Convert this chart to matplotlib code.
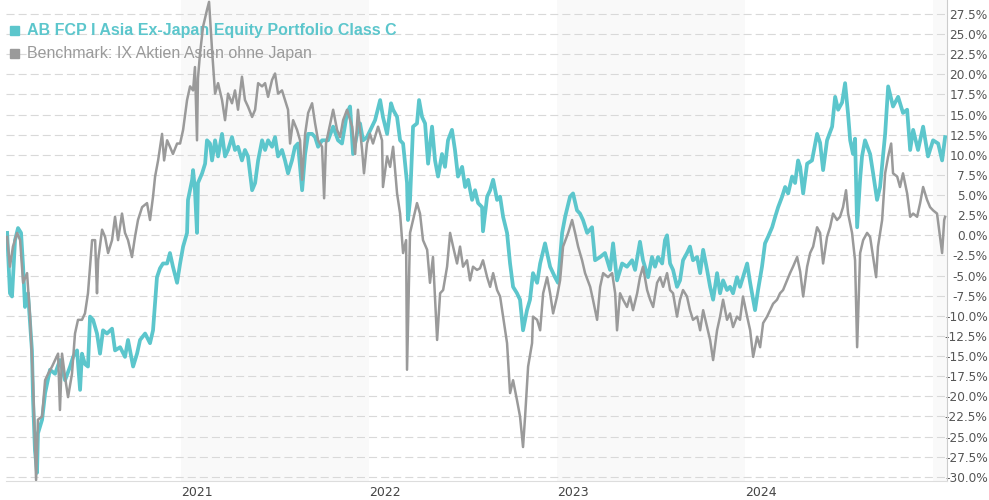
import matplotlib
matplotlib.use("Agg")
import matplotlib.pyplot as plt
from matplotlib.patches import Rectangle

fund_name = "AB FCP I Asia Ex-Japan Equity Portfolio Class C"
bench_name = "Benchmark: IX Aktien Asien ohne Japan"

year_ticks = [2021, 2022, 2023, 2024]
year_labels = ["2021", "2022", "2023", "2024"]
shaded_years = [2021, 2023, 2025]

y_ticks = [-30.0, -27.5, -25.0, -22.5, -20.0, -17.5, -15.0, -12.5, -10.0, -7.5, -5.0, -2.5,
           0.0, 2.5, 5.0, 7.5, 10.0, 12.5, 15.0, 17.5, 20.0, 22.5, 25.0, 27.5]
y_labels = ["-30.0%", "-27.5%", "-25.0%", "-22.5%", "-20.0%", "-17.5%", "-15.0%", "-12.5%",
            "-10.0%", "-7.5%", "-5.0%", "-2.5%", "0.0%", "2.5%", "5.0%", "7.5%", "10.0%",
            "12.5%", "15.0%", "17.5%", "20.0%", "22.5%", "25.0%", "27.5%"]

# time in decimal years, cumulative performance in %
fund_t = [
    2020.075, 2020.090, 2020.101, 2020.117, 2020.133, 2020.149, 2020.160, 2020.170, 2020.186, 2020.207,
    2020.213, 2020.223, 2020.234, 2020.239, 2020.261, 2020.277, 2020.303, 2020.330, 2020.356, 2020.383,
    2020.410, 2020.426, 2020.447, 2020.463, 2020.473, 2020.489, 2020.505, 2020.516, 2020.532, 2020.553,
    2020.569, 2020.585, 2020.606, 2020.633, 2020.649, 2020.676, 2020.702, 2020.718, 2020.745, 2020.766,
    2020.782, 2020.809, 2020.835, 2020.851, 2020.872, 2020.888, 2020.904, 2020.926, 2020.941, 2020.957,
    2020.979, 2020.995, 2021.011, 2021.032, 2021.037, 2021.059, 2021.064, 2021.074, 2021.085, 2021.090,
    2021.112, 2021.128, 2021.138, 2021.154, 2021.165, 2021.181, 2021.197, 2021.218, 2021.234, 2021.250,
    2021.271, 2021.287, 2021.303, 2021.324, 2021.340, 2021.356, 2021.378, 2021.394, 2021.410, 2021.431,
    2021.447, 2021.463, 2021.484, 2021.500, 2021.516, 2021.537, 2021.553, 2021.569, 2021.590, 2021.606,
    2021.622, 2021.644, 2021.660, 2021.676, 2021.697, 2021.713, 2021.729, 2021.750, 2021.782, 2021.809,
    2021.835, 2021.856, 2021.883, 2021.899, 2021.915, 2021.936, 2021.952, 2021.968, 2021.989, 2022.016,
    2022.032, 2022.059, 2022.074, 2022.096, 2022.117, 2022.128, 2022.149, 2022.165, 2022.181, 2022.202,
    2022.207, 2022.218, 2022.234, 2022.255, 2022.266, 2022.282, 2022.298, 2022.314, 2022.335, 2022.351,
    2022.367, 2022.388, 2022.404, 2022.420, 2022.441, 2022.457, 2022.473, 2022.495, 2022.511, 2022.527,
    2022.548, 2022.564, 2022.580, 2022.601, 2022.606, 2022.628, 2022.644, 2022.660, 2022.681, 2022.697,
    2022.713, 2022.734, 2022.750, 2022.766, 2022.787, 2022.803, 2022.819, 2022.840, 2022.856, 2022.872,
    2022.894, 2022.910, 2022.936, 2022.963, 2022.989, 2023.005, 2023.027, 2023.043, 2023.069, 2023.085,
    2023.106, 2023.122, 2023.138, 2023.160, 2023.186, 2023.202, 2023.229, 2023.255, 2023.282, 2023.298,
    2023.319, 2023.346, 2023.372, 2023.399, 2023.415, 2023.441, 2023.457, 2023.484, 2023.505, 2023.521,
    2023.537, 2023.559, 2023.574, 2023.585, 2023.601, 2023.617, 2023.638, 2023.654, 2023.670, 2023.691,
    2023.707, 2023.723, 2023.745, 2023.761, 2023.777, 2023.798, 2023.814, 2023.830, 2023.851, 2023.867,
    2023.883, 2023.904, 2023.920, 2023.936, 2023.957, 2023.973, 2023.989, 2024.011, 2024.027, 2024.043,
    2024.053, 2024.069, 2024.090, 2024.106, 2024.122, 2024.144, 2024.160, 2024.176, 2024.197, 2024.213,
    2024.229, 2024.250, 2024.266, 2024.282, 2024.293, 2024.309, 2024.330, 2024.356, 2024.383, 2024.399,
    2024.415, 2024.436, 2024.463, 2024.479, 2024.495, 2024.516, 2024.532, 2024.548, 2024.559, 2024.574,
    2024.585, 2024.596, 2024.612, 2024.622, 2024.638, 2024.665, 2024.681, 2024.702, 2024.718, 2024.745,
    2024.761, 2024.787, 2024.814, 2024.840, 2024.862, 2024.878, 2024.894, 2024.920, 2024.947, 2024.973,
    2025.000, 2025.027, 2025.048, 2025.064,
]
fund_v = [
    0.3, -7.2, -7.6, -0.6, 0.9, 0.3, -3.9, -8.9, -7.2, -14.3,
    -20.5, -26.7, -29.5, -24.6, -22.9, -19.6, -16.7, -17.2, -15.5, -18.0,
    -16.3, -15.1, -14.3, -19.2, -14.7, -16.0, -16.3, -10.1, -10.5, -12.2,
    -14.7, -11.8, -12.2, -11.6, -14.3, -13.9, -15.1, -13.0, -16.3, -14.7,
    -13.0, -12.2, -13.4, -11.8, -5.2, -4.1, -3.5, -3.5, -2.2, -3.9,
    -5.9, -3.5, -1.4, 0.3, 4.4, 6.9, 8.1, 5.6, 0.3, 6.5,
    7.7, 8.9, 11.8, 11.4, 9.3, 11.8, 9.8, 12.6, 9.8, 10.6,
    12.2, 10.6, 11.0, 9.3, 10.6, 9.8, 5.6, 6.5, 9.3, 11.8,
    10.6, 11.8, 11.0, 12.2, 9.8, 10.6, 9.3, 7.7, 9.3, 11.0,
    11.4, 5.6, 10.1, 12.6, 12.6, 12.2, 11.0, 11.8, 11.8, 13.5,
    11.8, 11.4, 15.2, 16.0, 10.1, 12.6, 13.9, 11.8, 12.2, 13.5,
    14.3, 16.8, 14.7, 12.6, 16.4, 15.6, 14.7, 11.8, 11.4, 6.5,
    1.9, 4.4, 13.5, 13.9, 16.8, 14.7, 13.9, 8.9, 13.5, 9.3,
    7.3, 10.1, 8.5, 11.8, 13.1, 10.6, 7.3, 8.5, 6.0, 6.9,
    4.4, 5.6, 4.0, 3.5, 0.5, 4.8, 5.6, 6.9, 4.4, 4.8,
    2.3, 0.3, -3.5, -6.4, -7.2, -8.0, -11.8, -9.3, -8.0, -4.7,
    -5.9, -3.5, -1.0, -3.9, -5.2, -5.9, 0.3, 2.3, 4.8, 5.2,
    3.1, 2.7, 1.9, 0.3, 1.0, -3.1, -2.7, -2.2, -4.3, -1.0,
    -5.6, -3.5, -3.9, -3.1, -4.3, -0.8, -3.1, -5.2, -2.7, -3.9,
    -2.7, -3.5, -0.6, 0.0, -3.5, -4.3, -6.4, -5.6, -3.1, -2.2,
    -1.4, -3.1, -2.7, -4.7, -1.8, -4.3, -6.4, -8.0, -4.7, -7.2,
    -5.6, -6.8, -6.4, -7.2, -5.2, -6.4, -5.2, -3.5, -5.9, -8.0,
    -9.3, -6.8, -3.9, -1.0, -0.2, 1.0, 2.3, 3.5, 4.8, 6.0,
    5.2, 7.3, 6.5, 9.3, 8.5, 5.2, 8.9, 9.3, 12.6, 11.5,
    8.1, 11.8, 13.5, 17.2, 15.6, 16.5, 18.9, 15.0, 11.8, 10.1,
    12.0, 1.0, 7.0, 9.8, 11.8, 10.1, 7.7, 4.4, 6.0, 12.6,
    18.5, 16.0, 17.2, 15.2, 15.6, 10.6, 13.1, 10.6, 13.5, 9.8,
    11.8, 11.4, 9.3, 12.2,
]

bench_t = [
    2020.075, 2020.090, 2020.106, 2020.128, 2020.144, 2020.160, 2020.181, 2020.197, 2020.213, 2020.229,
    2020.239, 2020.261, 2020.277, 2020.293, 2020.314, 2020.330, 2020.346, 2020.356, 2020.367, 2020.383,
    2020.399, 2020.420, 2020.436, 2020.452, 2020.473, 2020.489, 2020.505, 2020.527, 2020.543, 2020.553,
    2020.559, 2020.580, 2020.596, 2020.612, 2020.633, 2020.649, 2020.665, 2020.686, 2020.702, 2020.718,
    2020.739, 2020.755, 2020.771, 2020.793, 2020.819, 2020.835, 2020.851, 2020.862, 2020.878, 2020.899,
    2020.910, 2020.926, 2020.941, 2020.957, 2020.979, 2020.995, 2021.011, 2021.032, 2021.048, 2021.064,
    2021.074, 2021.085, 2021.090, 2021.101, 2021.117, 2021.138, 2021.149, 2021.165, 2021.181, 2021.197,
    2021.218, 2021.234, 2021.250, 2021.271, 2021.287, 2021.303, 2021.324, 2021.340, 2021.356, 2021.378,
    2021.394, 2021.410, 2021.431, 2021.447, 2021.463, 2021.484, 2021.500, 2021.516, 2021.537, 2021.553,
    2021.569, 2021.580, 2021.596, 2021.617, 2021.633, 2021.644, 2021.660, 2021.676, 2021.697, 2021.713,
    2021.729, 2021.750, 2021.761, 2021.771, 2021.809, 2021.830, 2021.846, 2021.862, 2021.883, 2021.910,
    2021.926, 2021.941, 2021.963, 2021.973, 2021.989, 2022.005, 2022.021, 2022.048, 2022.069, 2022.074,
    2022.096, 2022.112, 2022.128, 2022.149, 2022.165, 2022.181, 2022.197, 2022.202, 2022.218, 2022.234,
    2022.255, 2022.271, 2022.287, 2022.309, 2022.324, 2022.340, 2022.362, 2022.378, 2022.394, 2022.415,
    2022.431, 2022.447, 2022.468, 2022.484, 2022.500, 2022.521, 2022.537, 2022.553, 2022.574, 2022.590,
    2022.606, 2022.628, 2022.644, 2022.660, 2022.681, 2022.697, 2022.713, 2022.734, 2022.750, 2022.766,
    2022.787, 2022.803, 2022.819, 2022.830, 2022.846, 2022.867, 2022.872, 2022.894, 2022.910, 2022.926,
    2022.947, 2022.963, 2022.979, 2023.000, 2023.016, 2023.032, 2023.059, 2023.080, 2023.096, 2023.112,
    2023.133, 2023.149, 2023.176, 2023.191, 2023.213, 2023.229, 2023.245, 2023.271, 2023.293, 2023.309,
    2023.319, 2023.335, 2023.351, 2023.372, 2023.388, 2023.404, 2023.426, 2023.441, 2023.457, 2023.479,
    2023.495, 2023.511, 2023.532, 2023.548, 2023.564, 2023.585, 2023.601, 2023.617, 2023.638, 2023.654,
    2023.670, 2023.691, 2023.707, 2023.723, 2023.745, 2023.761, 2023.777, 2023.798, 2023.814, 2023.830,
    2023.851, 2023.867, 2023.883, 2023.904, 2023.920, 2023.936, 2023.957, 2023.973, 2023.989, 2024.011,
    2024.027, 2024.043, 2024.064, 2024.080, 2024.096, 2024.117, 2024.133, 2024.149, 2024.170, 2024.186,
    2024.202, 2024.223, 2024.239, 2024.255, 2024.277, 2024.293, 2024.309, 2024.330, 2024.346, 2024.362,
    2024.383, 2024.399, 2024.415, 2024.436, 2024.452, 2024.468, 2024.489, 2024.505, 2024.521, 2024.537,
    2024.548, 2024.569, 2024.585, 2024.596, 2024.612, 2024.628, 2024.649, 2024.665, 2024.681, 2024.697,
    2024.707, 2024.729, 2024.745, 2024.761, 2024.777, 2024.787, 2024.809, 2024.824, 2024.840, 2024.862,
    2024.878, 2024.894, 2024.915, 2024.931, 2024.947, 2024.968, 2024.984, 2025.000, 2025.021, 2025.032,
    2025.048, 2025.059, 2025.064,
]
bench_v = [
    -0.2, -3.9, -1.4, 0.3, -0.6, -5.9, -4.7, -10.1, -18.4, -30.4,
    -22.9, -22.5, -18.0, -17.2, -16.3, -15.5, -14.7, -21.7, -14.7, -17.6,
    -20.1, -17.2, -12.2, -10.5, -10.5, -9.7, -7.2, -0.6, -0.6, -7.2,
    -3.1, 0.7, -0.2, -2.2, -0.6, 2.3, -0.6, 2.7, 0.3, -0.6,
    -2.7, -0.2, 1.9, 3.5, 4.0, 1.9, 4.8, 7.3, 9.3, 12.6,
    9.3, 11.8, 11.0, 10.1, 11.4, 11.4, 13.1, 16.8, 18.5, 18.0,
    20.9, 11.8, 19.5, 22.6, 25.9, 28.0, 29.0, 23.0, 17.6, 18.9,
    16.8, 14.3, 17.6, 16.4, 18.0, 15.6, 19.7, 16.8, 16.0, 14.7,
    15.6, 18.9, 18.5, 18.9, 17.2, 19.3, 20.1, 17.6, 18.0, 16.8,
    15.6, 11.4, 14.3, 13.1, 11.8, 6.9, 12.6, 15.2, 16.4, 13.9,
    11.8, 11.0, 4.6, 11.4, 15.6, 13.1, 12.2, 14.3, 15.6, 13.5,
    10.1, 15.6, 10.6, 7.7, 11.4, 12.6, 11.4, 13.5, 11.8, 6.0,
    9.8, 8.5, 11.0, 5.2, 2.7, -2.2, -0.6, -16.7, 0.3, 1.9,
    4.0, 2.7, -0.6, -1.8, -5.9, -2.7, -13.0, -7.2, -6.8, -3.9,
    0.3, -1.4, -3.5, -1.4, -3.9, -3.1, -5.6, -3.9, -4.3, -4.1,
    -3.1, -5.2, -6.4, -4.7, -6.8, -7.6, -10.1, -13.4, -19.6, -18.0,
    -20.5, -22.5, -26.3, -22.5, -16.3, -13.4, -10.1, -10.5, -11.8, -7.2,
    -5.2, -7.2, -9.7, -7.6, -5.6, -1.4, 0.3, 1.9, 0.3, -1.4,
    -3.1, -4.7, -6.4, -8.0, -10.5, -6.4, -4.7, -5.2, -4.7, -7.2,
    -11.8, -7.2, -8.0, -8.9, -7.6, -9.3, -7.2, -5.2, -3.9, -6.8,
    -8.0, -8.9, -5.9, -5.2, -6.4, -4.7, -6.8, -7.2, -10.1, -8.0,
    -6.8, -7.6, -9.3, -10.5, -10.1, -11.8, -9.3, -11.4, -13.0, -15.5,
    -11.8, -10.1, -8.0, -10.5, -9.7, -11.4, -10.1, -10.5, -7.6, -10.1,
    -11.8, -15.1, -12.6, -13.9, -10.9, -10.1, -9.3, -8.5, -8.0, -7.2,
    -6.8, -5.6, -4.7, -3.9, -2.7, -4.5, -7.6, -3.9, -2.2, -1.4,
    1.0, 0.3, -3.5, -0.2, 1.0, 2.7, 1.9, 2.3, 3.5, 5.6,
    2.7, 0.3, -3.1, -13.9, -2.2, -0.6, 0.3, -0.2, -2.7, -5.2,
    -1.4, 1.9, 7.7, 9.8, 11.4, 7.7, 7.3, 6.0, 7.7, 5.2,
    2.3, 2.7, 2.3, 4.0, 6.0, 4.4, 3.5, 3.1, 2.7, 0.7,
    -2.2, 1.9, 2.3,
]

TEAL = "#5CC6CC"
GREY = "#9A9A9A"
W, H = 989, 500

plt.rcParams["lines.scale_dashes"] = False
fig = plt.figure(figsize=(W / 100, H / 100), dpi=100)
ax = fig.add_axes([6 / W, 19 / H, 941 / W, 481 / H])
ax.set_xlim(2020.069, 2025.074)
ax.set_ylim(-30.52, 29.23)

for yr in shaded_years:
    ax.axvspan(yr, yr + 1, color="#f9f9f9", lw=0, zorder=0)

for v in y_ticks:
    ax.axhline(v, color="#d9d9d9", lw=0.8, dashes=(5.8, 2.9), zorder=0.5)

ax.plot(fund_t, fund_v, color=TEAL, lw=2.7, solid_joinstyle="round", zorder=3)
ax.plot(bench_t, bench_v, color=GREY, lw=1.8, solid_joinstyle="round", zorder=4)

# legend (drawn beneath the lines, as in the original)
ax.add_patch(Rectangle((10 / W, 1 - 35 / H), 9 / W, 9 / H, transform=fig.transFigure,
                       color=TEAL, zorder=1, clip_on=False))
ax.text(27 / W, 1 - 30.5 / H, fund_name, transform=fig.transFigure, color=TEAL,
        fontsize=11.5, fontweight="bold", family="Liberation Sans", va="center", ha="left", zorder=1)
ax.add_patch(Rectangle((10 / W, 1 - 58 / H), 9 / W, 9 / H, transform=fig.transFigure,
                       color=GREY, zorder=1, clip_on=False))
ax.text(27 / W, 1 - 53.5 / H, bench_name, transform=fig.transFigure, color=GREY,
        fontsize=11.5, family="Liberation Sans", va="center", ha="left", zorder=1)

for s in ["top", "left"]:
    ax.spines[s].set_visible(False)
ax.spines["right"].set_color("#cccccc")
ax.spines["bottom"].set_color("#dddddd")
ax.spines["right"].set_linewidth(0.8)
ax.spines["bottom"].set_linewidth(0.8)

ax.yaxis.tick_right()
ax.set_yticks(y_ticks)
ax.set_yticklabels(y_labels)
ax.tick_params(axis="y", length=0, pad=29.3, labelsize=8.7, labelcolor="#555555")
for lab in ax.get_yticklabels():
    lab.set_horizontalalignment("right")

ax.set_xticks(year_ticks)
ax.set_xticklabels(year_labels)
ax.tick_params(axis="x", length=0, pad=3.5, labelsize=9, labelcolor="#444444")
for lab in ax.get_xticklabels():
    lab.set_horizontalalignment("left")

fig.savefig("out.png", dpi=100)
